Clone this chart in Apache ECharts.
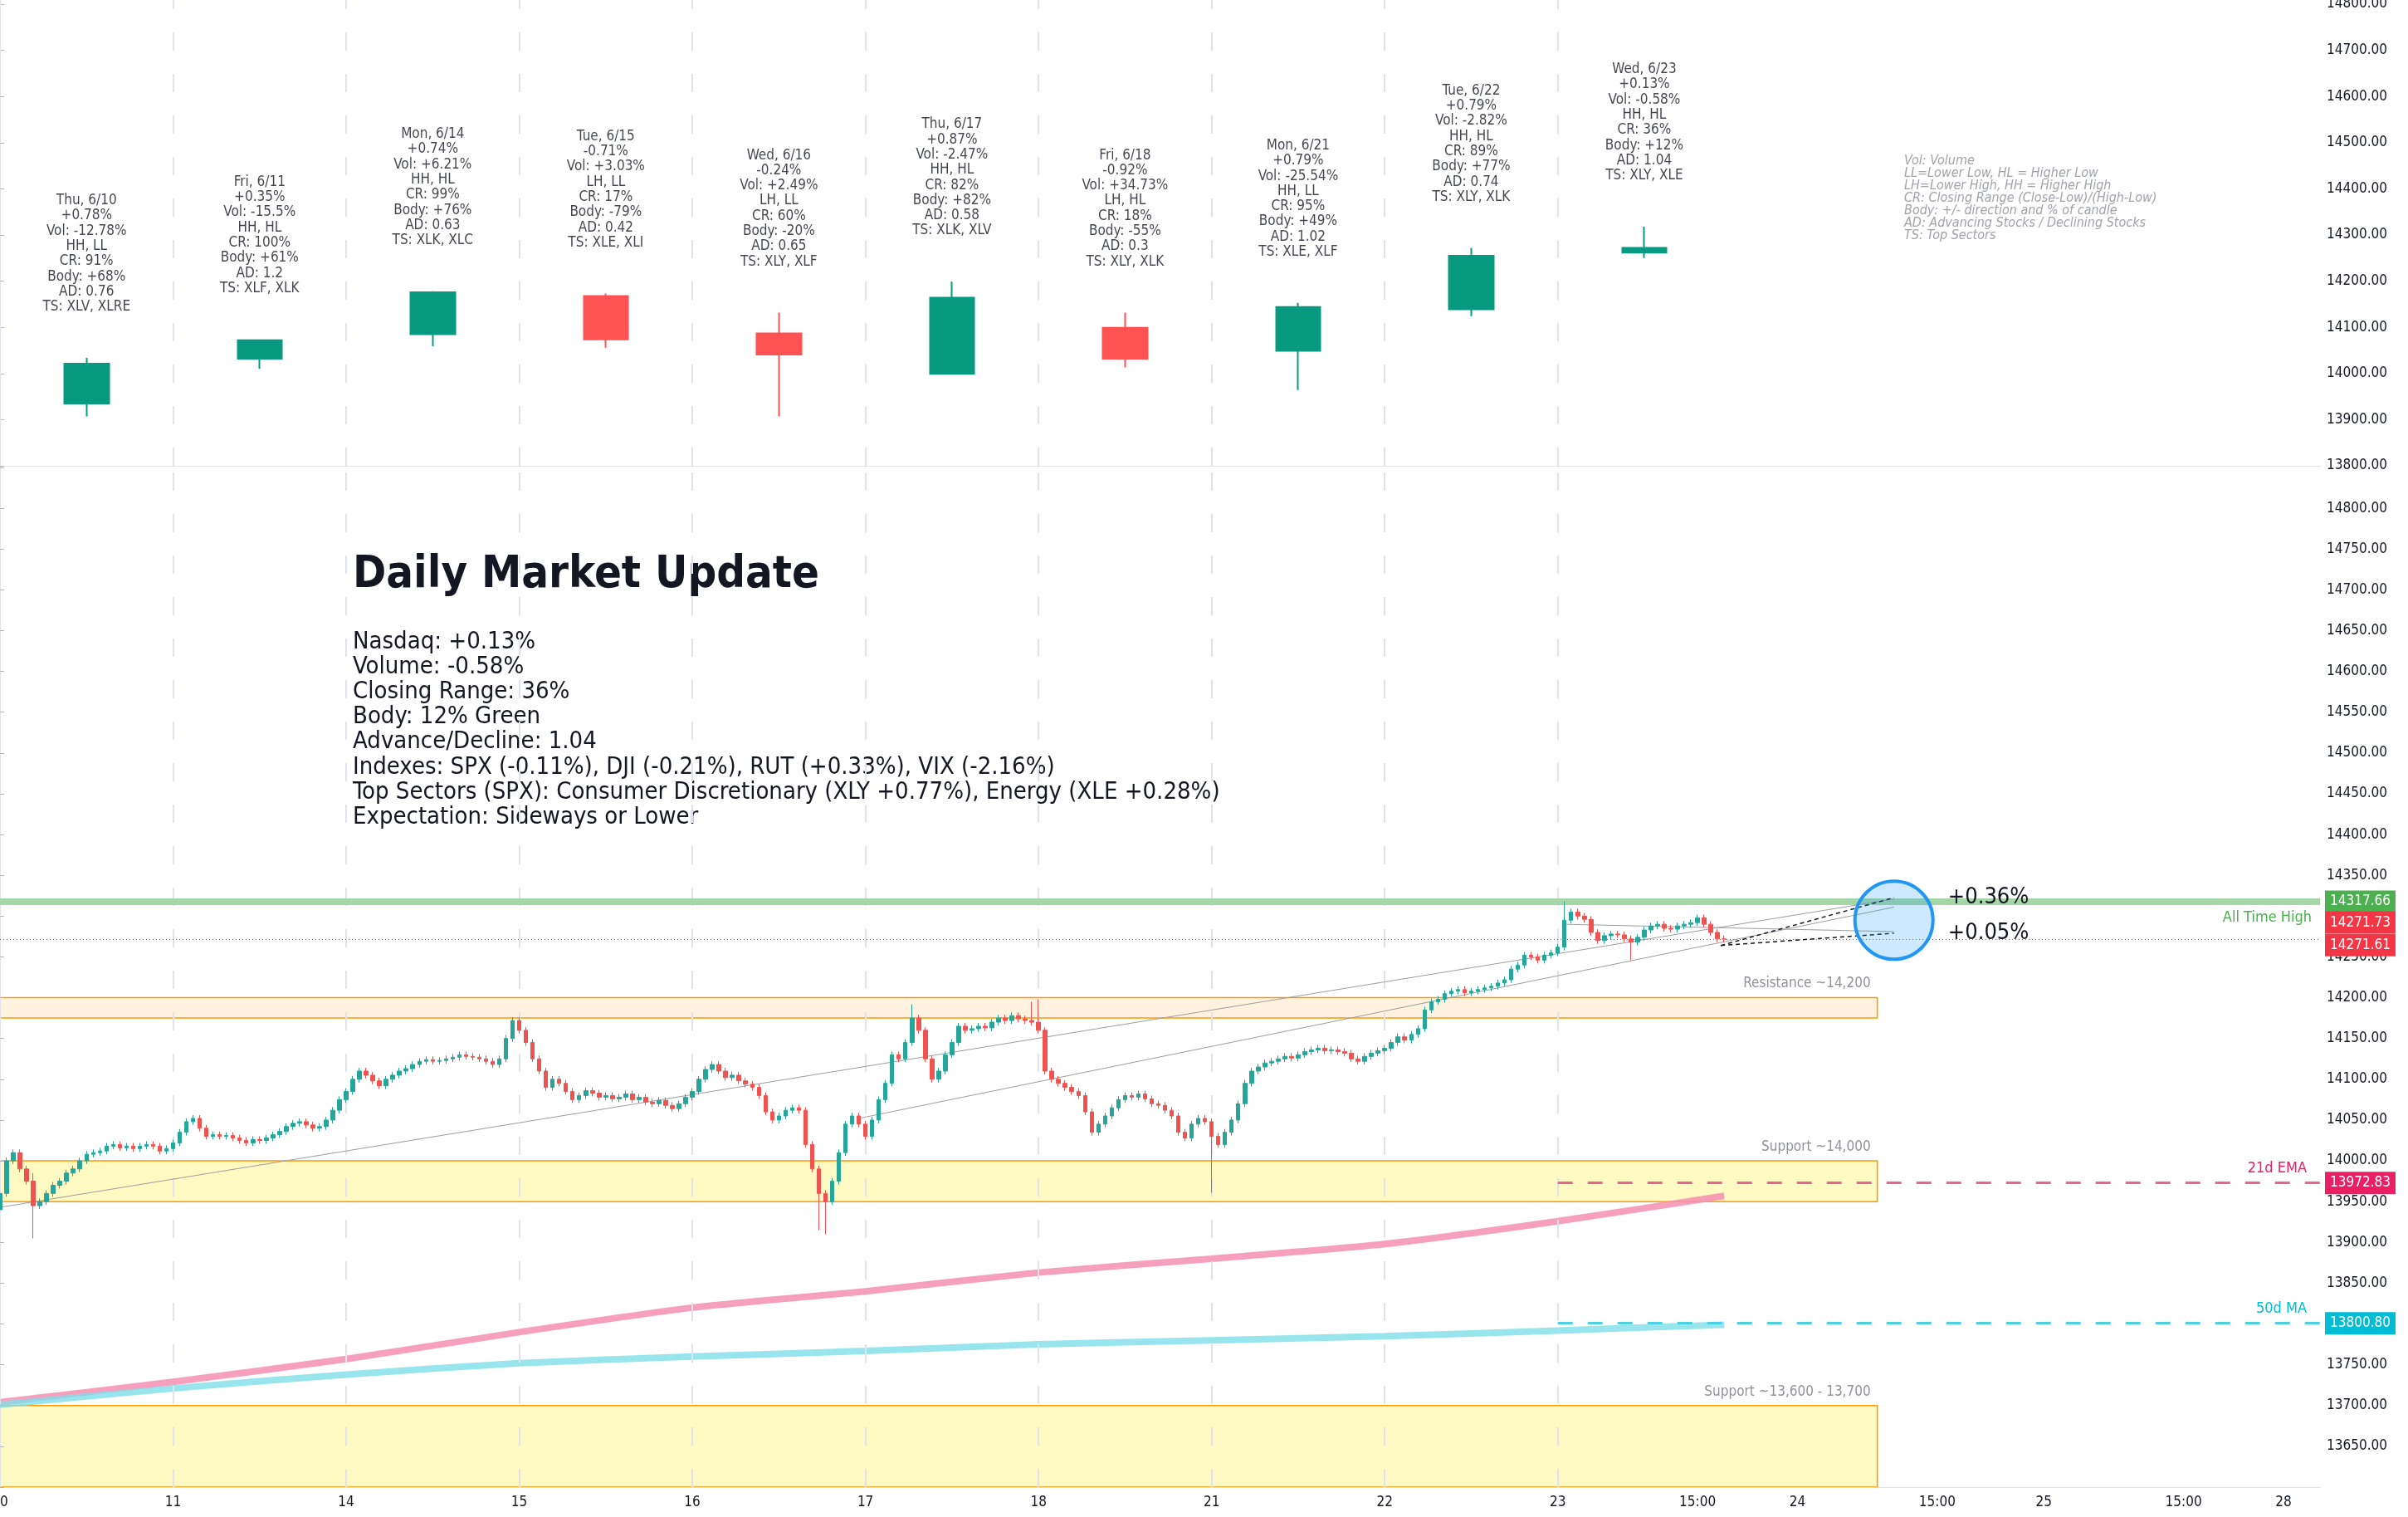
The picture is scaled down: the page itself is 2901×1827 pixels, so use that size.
<!DOCTYPE html>
<html><head><meta charset="utf-8">
<script src="https://cdn.jsdelivr.net/npm/echarts@6/dist/echarts.min.js"></script>
<style>html,body{margin:0;padding:0;background:#fff}#c{width:2901px;height:1827px}</style>
</head><body><div id="c"></div>
<script>
// ---- data ----
const dayLabels = ['10','11','14','15','16','17','18','21','22','23'];
const barsPerDay = 26;
const futureTicks = [[255,'15:00'],[270,'24'],[291,'15:00'],[307,'25'],[328,'15:00'],[343,'28']];
// daily candles [open, close, low, high]
const dailyOHLC = [
 [13935,14021,13907,14034],[14032,14072,14010,14074],[14085,14176,14059,14178],
 [14168,14074,14056,14173],[14087,14041,13907,14132],[13999,14164,13999,14199],
 [14099,14032,14013,14132],[14049,14144,13964,14153],[14139,14255,14124,14272],
 [14262,14272,14250,14318]];
const dailyNotes = [
 'Thu, 6/10\n+0.78%\nVol: -12.78%\nHH, LL\nCR: 91%\nBody: +68%\nAD: 0.76\nTS: XLV, XLRE',
 'Fri, 6/11\n+0.35%\nVol: -15.5%\nHH, HL\nCR: 100%\nBody: +61%\nAD: 1.2\nTS: XLF, XLK',
 'Mon, 6/14\n+0.74%\nVol: +6.21%\nHH, HL\nCR: 99%\nBody: +76%\nAD: 0.63\nTS: XLK, XLC',
 'Tue, 6/15\n-0.71%\nVol: +3.03%\nLH, LL\nCR: 17%\nBody: -79%\nAD: 0.42\nTS: XLE, XLI',
 'Wed, 6/16\n-0.24%\nVol: +2.49%\nLH, LL\nCR: 60%\nBody: -20%\nAD: 0.65\nTS: XLY, XLF',
 'Thu, 6/17\n+0.87%\nVol: -2.47%\nHH, HL\nCR: 82%\nBody: +82%\nAD: 0.58\nTS: XLK, XLV',
 'Fri, 6/18\n-0.92%\nVol: +34.73%\nLH, HL\nCR: 18%\nBody: -55%\nAD: 0.3\nTS: XLY, XLK',
 'Mon, 6/21\n+0.79%\nVol: -25.54%\nHH, LL\nCR: 95%\nBody: +49%\nAD: 1.02\nTS: XLE, XLF',
 'Tue, 6/22\n+0.79%\nVol: -2.82%\nHH, HL\nCR: 89%\nBody: +77%\nAD: 0.74\nTS: XLY, XLK',
 'Wed, 6/23\n+0.13%\nVol: -0.58%\nHH, HL\nCR: 36%\nBody: +12%\nAD: 1.04\nTS: XLY, XLE'];
// intraday closes (26 per day)
const closes = [
 13960,14000,14010,13990,13975,13945,13950,13960,13970,13975,13985,13990,14000,14008,14010,14012,14018,14020,14016,14018,14015,14018,14020,14018,14012,14015,
 14022,14035,14048,14052,14040,14030,14032,14030,14031,14028,14025,14022,14026,14025,14028,14032,14036,14042,14046,14048,14044,14040,14042,14050,14062,14075,
 14085,14100,14110,14105,14098,14092,14100,14105,14110,14113,14118,14122,14124,14122,14123,14125,14127,14130,14128,14127,14125,14122,14118,14125,14150,14172,
 14160,14145,14125,14110,14090,14100,14095,14085,14075,14080,14086,14083,14078,14080,14076,14078,14082,14075,14078,14072,14070,14074,14068,14064,14070,14078,
 14085,14100,14112,14118,14110,14102,14105,14098,14094,14090,14080,14060,14050,14055,14062,14065,14062,14020,13990,13960,13950,13975,14010,14045,14055,14045,
 14030,14050,14075,14095,14130,14125,14145,14175,14160,14125,14100,14110,14130,14145,14165,14160,14162,14165,14163,14170,14175,14172,14178,14174,14172,14170,
 14160,14110,14100,14095,14090,14085,14080,14060,14035,14045,14055,14065,14075,14080,14078,14082,14076,14070,14068,14062,14055,14035,14028,14045,14052,14048,
 14030,14020,14035,14050,14070,14095,14110,14115,14120,14122,14125,14128,14126,14130,14134,14136,14138,14135,14136,14134,14132,14125,14122,14128,14132,14135,
 14138,14145,14152,14148,14155,14162,14185,14195,14198,14205,14208,14210,14206,14208,14210,14212,14214,14218,14222,14235,14240,14252,14250,14246,14252,14255,
 14262,14295,14305,14300,14296,14280,14270,14276,14278,14277,14272,14268,14274,14283,14288,14290,14285,14284,14288,14290,14292,14298,14290,14280,14272,14271.73];
const firstOpen = 13940;
// notable wick extremes [barIndex, low, high]
const wickExtremes = [[0,13925,14031],[5,13905,13985],[123,13915,null],[124,13910,null],
 [137,null,14192],[155,null,14195],[156,null,14198],[182,13961,null],[235,null,14318],[245,14246,null]];
const ema21 = [13704,13729,13757,13790,13820,13840,13863,13880,13898,13926,13957];
const ma50  = [13701,13721,13738,13752,13760,13767,13775,13780,13785,13792,13799];
const ATH = 14317.66, lastPrice = 14271.73, prevLine = 14271.61, emaVal = 13972.83, maVal = 13800.80;
const zones = [[14175,14200,'Resistance ~14,200','#fff3e0'],[13950,14000,'Support ~14,000','#fff9c4'],[13600,13700,'Support ~13,600 - 13,700','#fff9c4']];
const projections = [[ATH+5,'+0.36%'],[14279,'+0.05%']];
const legendNote = 'Vol: Volume\nLL=Lower Low, HL = Higher Low\nLH=Lower High, HH = Higher High\nCR: Closing Range (Close-Low)/(High-Low)\nBody: +/- direction and % of candle\nAD: Advancing Stocks / Declining Stocks\nTS: Top Sectors';
const titleText = 'Daily Market Update';
const bodyLines = ['Nasdaq: +0.13%','Volume: -0.58%','Closing Range: 36%','Body: 12% Green','Advance/Decline: 1.04',
 'Indexes: SPX (-0.11%), DJI (-0.21%), RUT (+0.33%), VIX (-2.16%)',
 'Top Sectors (SPX): Consumer Discretionary (XLY +0.77%), Energy (XLE +0.28%)','Expectation: Sideways or Lower'];

// ---- build ----
const FONT='"DejaVu Sans Condensed","Liberation Sans Narrow","DejaVu Sans",sans-serif';
const XMAX=348.5, ZONE_END=282, LAST_IDX=259;
const dayStarts = dayLabels.map((d,i)=>i*barsPerDay);
const labelMap = {}; dayStarts.forEach((s,i)=>labelMap[s]=dayLabels[i]); futureTicks.forEach(t=>labelMap[t[0]]=t[1]);
const intraday=[]; let prev=firstOpen;
closes.forEach((c,i)=>{ const o=prev; let lo=Math.min(o,c)-4, hi=Math.max(o,c)+4; intraday.push([i,o,c,lo,hi]); prev=c;});
wickExtremes.forEach(w=>{ if(w[1]!=null) intraday[w[0]][3]=w[1]; if(w[2]!=null) intraday[w[0]][4]=w[2]; });
const UP='#089981';
const daily = dailyOHLC.map((d,i)=>[dayStarts[i]+13, d[0], d[1], d[2], d[3]]);
const emaPts = ema21.map((v,i)=>[Math.min(i*barsPerDay,LAST_IDX),v]);
const maPts = ma50.map((v,i)=>[Math.min(i*barsPerDay,LAST_IDX),v]);
const sepLines = dayStarts.map(s=>({xAxis:s}));
const tag=(bg)=>({show:true,position:'end',color:'#fff',backgroundColor:bg,padding:[5,6],fontSize:17,fontFamily:FONT,distance:6});

const chart = echarts.init(document.getElementById('c'));
chart.setOption({
 animation:false, backgroundColor:'#fff',
 grid:[{left:0,right:106,top:0,height:561,outerBoundsMode:'none',containLabel:false},
       {left:0,right:106,top:563,height:1228,outerBoundsMode:'none',containLabel:false}],
 xAxis:[
  {gridIndex:0,type:'value',min:0,max:XMAX,axisLabel:{show:false},axisTick:{show:false},splitLine:{show:false},axisLine:{show:true,lineStyle:{color:'#e0e3eb'}}},
  {gridIndex:1,type:'value',min:0,max:XMAX,interval:1,splitLine:{show:false},axisTick:{show:false},
   axisLine:{show:true,lineStyle:{color:'#e0e3eb'}},
   axisLabel:{fontSize:17,color:'#131722',fontFamily:FONT,margin:10,showMaxLabel:false,formatter:v=>labelMap[v]||''}}],
 yAxis:[
  {gridIndex:0,type:'value',position:'right',min:13800,max:14809,interval:100,splitLine:{show:false},
   axisLine:{show:true,lineStyle:{color:'#e0e3eb'}},axisTick:{show:true,length:5,lineStyle:{color:'#b2b5be'}},
   axisLabel:{fontSize:17,color:'#131722',fontFamily:FONT,formatter:v=>v.toFixed(2)}},
  {gridIndex:1,type:'value',position:'right',min:13600,max:14850,interval:50,splitLine:{show:false},
   axisLine:{show:true,lineStyle:{color:'#e0e3eb'}},axisTick:{show:true,length:5,lineStyle:{color:'#b2b5be'}},
   axisLabel:{fontSize:17,color:'#131722',fontFamily:FONT,formatter:v=>(v>14800||v<13650)?'':v.toFixed(2)}}],
 graphic:[
  {type:'text',left:425,top:666,style:{text:titleText,font:'bold 54px '+FONT,fill:'#131722'}},
  {type:'text',left:425,top:758,style:{text:bodyLines.join('\n'),font:'29px '+FONT,fill:'#131722',lineHeight:30.2}},
  {type:'text',left:2294,top:186,style:{text:legendNote,font:'italic 16px '+FONT,fill:'#a0a3ab',lineHeight:15}}],
 series:[
  {type:'candlestick',xAxisIndex:0,yAxisIndex:0,data:daily,barWidth:54,encode:{x:0,y:[1,2,3,4]},
   itemStyle:{color:UP,color0:'#ff5252',borderColor:UP,borderColor0:'#ff5252',borderWidth:2},
   markLine:{silent:true,symbol:'none',label:{show:false},lineStyle:{color:'#e0e3eb',type:[22,28],width:2},data:sepLines}},
  {type:'scatter',xAxisIndex:0,yAxisIndex:0,symbolSize:0,silent:true,
   data:daily.map((d,i)=>({value:[d[0],d[4]],label:{show:true,position:'top',distance:52,formatter:dailyNotes[i],
     fontSize:17,lineHeight:18.3,color:'#131722',fontFamily:FONT,align:'center'}}))},
  {type:'line',xAxisIndex:1,yAxisIndex:1,data:emaPts,symbol:'none',smooth:0.2,lineStyle:{color:'#f48fb1',width:8,opacity:0.85},z:1},
  {type:'line',xAxisIndex:1,yAxisIndex:1,data:maPts,symbol:'none',smooth:0.2,lineStyle:{color:'#80deea',width:8,opacity:0.8},z:1},
  {type:'candlestick',xAxisIndex:1,yAxisIndex:1,data:intraday,barWidth:5,encode:{x:0,y:[1,2,3,4]},z:5,
   itemStyle:{color:'#26a69a',color0:'#ef5350',borderColor:'#26a69a',borderColor0:'#ef5350',borderWidth:1},
   markArea:{silent:true,z:0,data:zones.map(z=>[{xAxis:0,yAxis:z[0],itemStyle:{color:z[3],borderColor:'#ff9800',borderWidth:1.5}},{xAxis:ZONE_END,yAxis:z[1]}])},
   markLine:{silent:true,symbol:'none',animation:false,data:[
     ...sepLines.map(s=>({xAxis:s.xAxis,label:{show:false},lineStyle:{color:'#e0e3eb',type:[22,28],width:2}})),
     ...zones.map(z=>[{coord:[0,z[1]],lineStyle:{width:0},label:{show:true,position:'insideEndTop',formatter:z[2],color:'#8f929b',fontSize:17,fontFamily:FONT,distance:8}},{coord:[ZONE_END,z[1]]}]),
     {yAxis:ATH,lineStyle:{color:'#a5d6a7',width:8,type:'solid'},label:{show:true,position:'insideEndBottom',formatter:'All Time High',color:'#4caf50',fontSize:18,fontFamily:FONT,distance:10}},
     {yAxis:ATH,lineStyle:{width:0},label:Object.assign(tag('#4caf50'),{formatter:ATH.toFixed(2)})},
     {yAxis:prevLine,lineStyle:{color:'#f23645',width:1,type:[1,3]},label:Object.assign(tag('#f23645'),{formatter:prevLine.toFixed(2),offset:[0,7]})},
     {yAxis:lastPrice,lineStyle:{width:0},label:Object.assign(tag('#f23645'),{formatter:lastPrice.toFixed(2),offset:[0,-20]})},
     [{coord:[234,emaVal],lineStyle:{color:'#f06292',width:3,type:[18,18]},label:Object.assign(tag('#e91e63'),{formatter:emaVal.toFixed(2)})},{coord:[XMAX,emaVal]}],
     [{coord:[234,emaVal],lineStyle:{width:0},label:{show:true,position:'insideEndTop',formatter:'21d EMA',color:'#e91e63',fontSize:18,fontFamily:FONT,distance:8}},{coord:[XMAX-1,emaVal]}],
     [{coord:[234,maVal],lineStyle:{color:'#4dd0e1',width:3,type:[18,18]},label:Object.assign(tag('#00bcd4'),{formatter:maVal.toFixed(2)})},{coord:[XMAX,maVal]}],
     [{coord:[234,maVal],lineStyle:{width:0},label:{show:true,position:'insideEndTop',formatter:'50d MA',color:'#00bcd4',fontSize:18,fontFamily:FONT,distance:8}},{coord:[XMAX-1,maVal]}],
     [{coord:[0,13943],lineStyle:{color:'#9e9e9e',width:1,type:'solid'},label:{show:false}},{coord:[284.5,14321]}],
     [{coord:[129,14052],lineStyle:{color:'#9e9e9e',width:1,type:'solid'},label:{show:false}},{coord:[284.5,14311]}],
     [{coord:[235,14290],lineStyle:{color:'#9e9e9e',width:1,type:'solid'},label:{show:false}},{coord:[284.5,14281]}],
     [{coord:[258.5,14264],lineStyle:{color:'#131722',width:1.5,type:[5,4]},label:{show:false}},{coord:[284.5,projections[0][0]]}],
     [{coord:[258.5,14264],lineStyle:{color:'#131722',width:1.5,type:[5,4]},label:{show:false}},{coord:[284.5,projections[1][0]]}]
   ]},
   markPoint:{silent:true,data:[
     {coord:[284.5,14295],symbol:'circle',symbolSize:94,itemStyle:{color:'rgba(33,150,243,0.22)',borderColor:'#2196f3',borderWidth:4},label:{show:false}},
     ...projections.map(p=>({coord:[292,p[0]],symbol:'circle',symbolSize:0,label:{show:true,position:'right',formatter:p[1],fontSize:27,color:'#131722',fontFamily:FONT}}))
   ]}}
 ]
});
</script></body></html>
